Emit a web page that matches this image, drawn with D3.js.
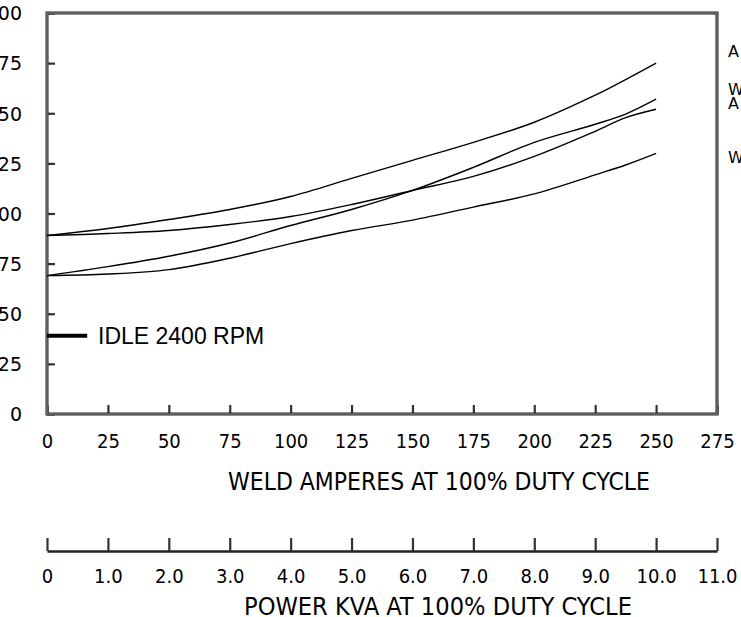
<!DOCTYPE html>
<html>
<head>
<meta charset="utf-8">
<script src="https://cdn.jsdelivr.net/npm/d3@7"></script>
<style>
  html, body { margin: 0; padding: 0; background: #fff; }
  svg { display: block; }
</style>
</head>
<body>
<svg id="chart" width="741" height="617"></svg>
<script>
// ---- data ----
const amps = [0, 25, 50, 75, 100, 125, 150, 175, 200, 225, 237.5, 250];
const curveA1 = [89, 92.5, 97, 102, 108.5, 117.5, 126.5, 135.5, 145.5, 159, 166.8, 175];
const curveW1 = [89, 90, 91.5, 94.5, 98.5, 104.5, 111.5, 118.5, 128.5, 141, 147.8, 152];
const curveA2 = [69, 73.5, 78.7, 85.3, 94, 102, 111.5, 123, 135.5, 144.5, 149.6, 157];
const curveW2 = [69, 69.8, 72, 77.7, 85, 91.5, 96.7, 103.2, 109.8, 119.3, 124.2, 130];
const series = [curveA1, curveW1, curveA2, curveW2];
const ampTicks = [0, 25, 50, 75, 100, 125, 150, 175, 200, 225, 250, 275];
const yTicks = [0, 25, 50, 75, 100, 125, 150, 175, 200];
const kvaTicks = [0, 1, 2, 3, 4, 5, 6, 7, 8, 9, 10, 11];
const kvaLabels = ["0", "1.0", "2.0", "3.0", "4.0", "5.0", "6.0", "7.0", "8.0", "9.0", "10.0", "11.0"];
const idleValue = 39;
const idleSpan = [0, 16.5];
const idleLabel = "IDLE 2400 RPM";
const rightLabels = [{t: "A", v: 181}, {t: "W", v: 162}, {t: "A", v: 155}, {t: "W", v: 128}];
const titleAmps = "WELD AMPERES AT 100% DUTY CYCLE";
const titleKva = "POWER KVA AT 100% DUTY CYCLE";

// ---- scales ----
const svg = d3.select("#chart");
const x = d3.scaleLinear().domain([0, 275]).range([47, 717]);
const y = d3.scaleLinear().domain([0, 200]).range([414, 13]);
const kva = d3.scaleLinear().domain([0, 11]).range([47, 717]);
const axisFont = "'DejaVu Sans Condensed', 'DejaVu Sans', sans-serif";

// y axis
const gy = svg.append("g").attr("transform", `translate(${x(0)},0)`)
  .call(d3.axisLeft(y).tickValues(yTicks).tickSizeInner(-8).tickSizeOuter(0).tickPadding(25));
gy.select(".domain").remove();
gy.selectAll(".tick line").attr("stroke", "#333").attr("stroke-width", 2.2);
gy.selectAll(".tick text").attr("font-family", "'DejaVu Sans', sans-serif").attr("font-size", 19)
  .attr("fill", "#000").attr("dy", "0.36em");

// x axis (amps)
const gx = svg.append("g").attr("transform", `translate(0,${y(0)})`)
  .call(d3.axisBottom(x).tickValues(ampTicks).tickSizeInner(-9).tickSizeOuter(0).tickPadding(0));
gx.select(".domain").remove();
gx.selectAll(".tick line").attr("stroke", "#333").attr("stroke-width", 2.2);
gx.selectAll(".tick text").attr("font-family", axisFont).attr("font-size", 20)
  .attr("fill", "#000").attr("y", 27).attr("dy", "0.36em");

// frame
svg.append("rect").attr("x", x(0)).attr("y", y(200)).attr("width", x(275) - x(0)).attr("height", y(0) - y(200))
  .attr("fill", "none").attr("stroke", "#222").attr("stroke-width", 3);
svg.append("rect").attr("x", x(0)).attr("y", y(200)).attr("width", x(275) - x(0)).attr("height", y(0) - y(200))
  .attr("fill", "none").attr("stroke", "#999").attr("stroke-width", 1);

// curves
const line = d3.line().x((d, i) => x(amps[i])).y(d => y(d)).curve(d3.curveCatmullRom.alpha(0.5));
svg.append("g").selectAll("path").data(series).join("path")
  .attr("d", line).attr("fill", "none").attr("stroke", "#000").attr("stroke-width", 1.4);

// idle marker
svg.append("line").attr("x1", x(idleSpan[0])).attr("x2", x(idleSpan[1]))
  .attr("y1", y(idleValue)).attr("y2", y(idleValue)).attr("stroke", "#000").attr("stroke-width", 4);
svg.append("text").attr("x", 98).attr("y", y(idleValue)).attr("dy", "0.36em")
  .attr("font-family", "'Liberation Sans', Arial, sans-serif").attr("font-size", 23).text(idleLabel);

// right labels
svg.append("g").selectAll("text").data(rightLabels).join("text")
  .attr("x", 728).attr("y", d => y(d.v)).attr("dy", "0.36em")
  .attr("font-family", "'DejaVu Sans', sans-serif").attr("font-size", 16).text(d => d.t);

// titles
svg.append("text").attr("x", 228).attr("y", 490).attr("font-family", axisFont).attr("font-size", 25)
  .attr("textLength", 422).attr("lengthAdjust", "spacingAndGlyphs").text(titleAmps);

// kva axis
const gk = svg.append("g").attr("transform", "translate(0,551)")
  .call(d3.axisBottom(kva).tickValues(kvaTicks).tickFormat((d, i) => kvaLabels[i]).tickSizeInner(-13).tickSizeOuter(0).tickPadding(0));
gk.select(".domain").attr("stroke", "#222").attr("stroke-width", 2.6);
gk.selectAll(".tick line").attr("stroke", "#333").attr("stroke-width", 2.2);
gk.selectAll(".tick text").attr("font-family", axisFont).attr("font-size", 20)
  .attr("fill", "#000").attr("y", 25).attr("dy", "0.36em");

svg.append("text").attr("x", 244).attr("y", 615).attr("font-family", axisFont).attr("font-size", 25)
  .attr("textLength", 388).attr("lengthAdjust", "spacingAndGlyphs").text(titleKva);
</script>
</body>
</html>
